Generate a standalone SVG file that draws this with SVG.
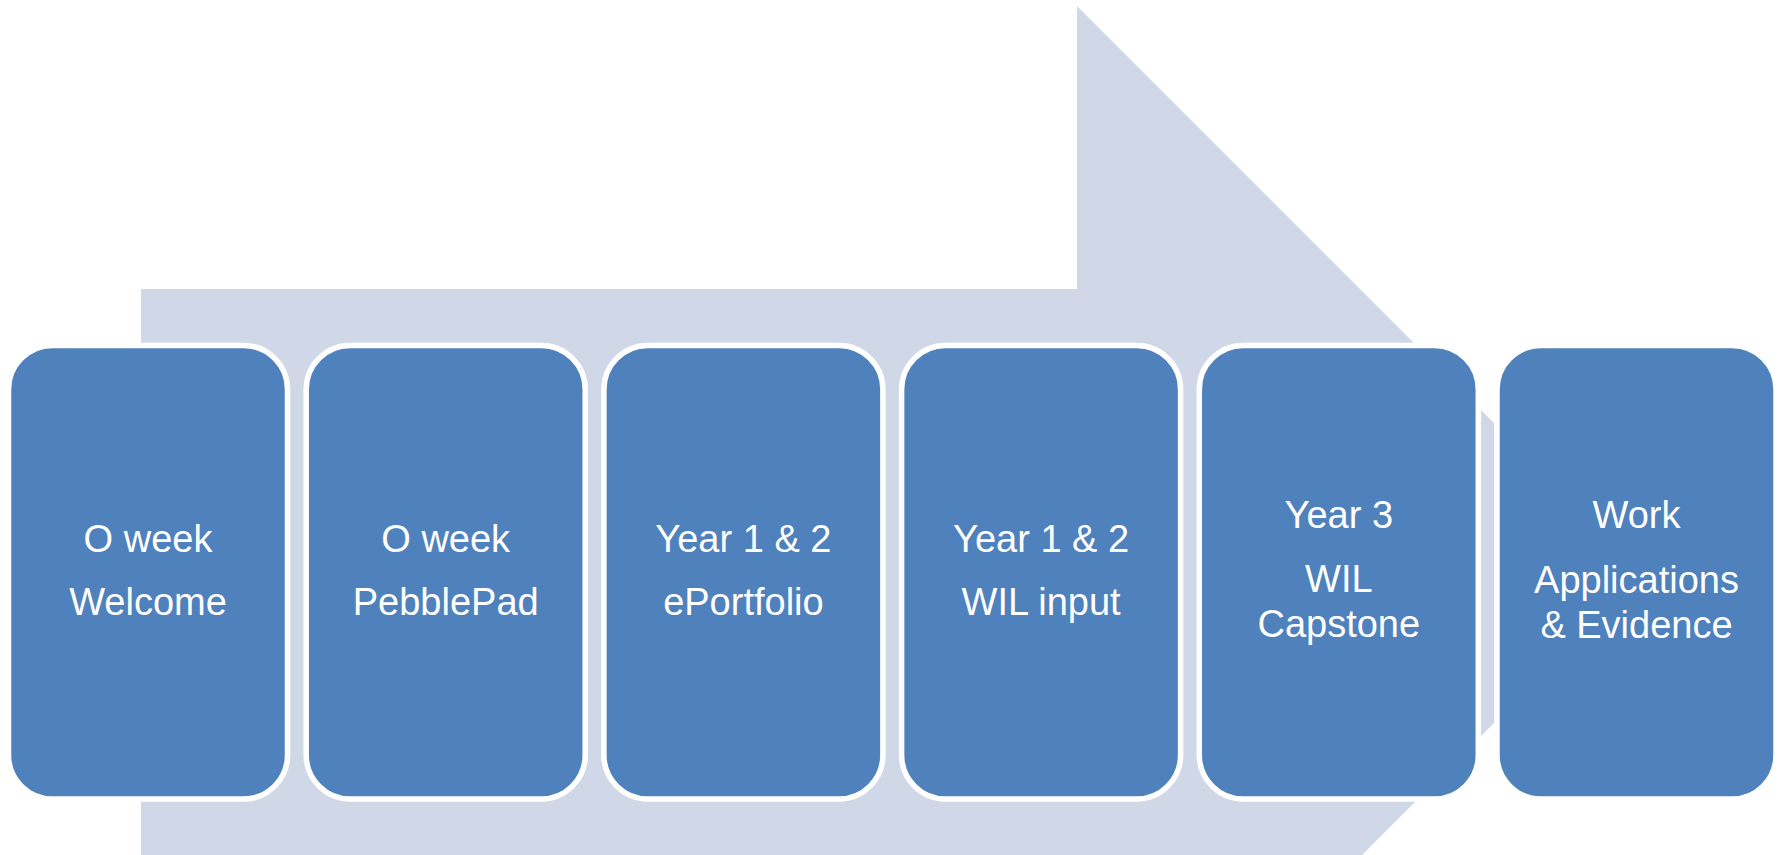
<svg xmlns="http://www.w3.org/2000/svg" width="1783" height="855" viewBox="0 0 1783 855">
  <style>
    .band { fill: #D0D8E8; }
    .step { fill: #4F81BD; stroke: #FFFFFF; stroke-width: 5.5; }
    .label { fill: #FFFFFF; font-family: "Liberation Sans", Arial, sans-serif; font-size: 38px; text-anchor: middle; }
  </style>

  <!-- Background progress arrow -->
  <g id="progress-arrow">
    <polygon class="band" points="141,289 1077,289 1077,6 1644,573 1077,1140 1077,857 141,857"/>
  </g>

  <!-- Stages -->
  <g id="stage-1">
    <rect class="step" x="8.5" y="345.5" width="279" height="453.5" rx="44" ry="44"/>
    <text class="label" x="148" y="551.5">O week</text>
    <text class="label" x="148" y="614.5">Welcome</text>
  </g>
  <g id="stage-2">
    <rect class="step" x="306.2" y="345.5" width="279" height="453.5" rx="44" ry="44"/>
    <text class="label" x="445.7" y="551.5">O week</text>
    <text class="label" x="445.7" y="614.5">PebblePad</text>
  </g>
  <g id="stage-3">
    <rect class="step" x="603.9" y="345.5" width="279" height="453.5" rx="44" ry="44"/>
    <text class="label" x="743.4" y="551.5">Year 1 &amp; 2</text>
    <text class="label" x="743.4" y="614.5">ePortfolio</text>
  </g>
  <g id="stage-4">
    <rect class="step" x="901.6" y="345.5" width="279" height="453.5" rx="44" ry="44"/>
    <text class="label" x="1041.1" y="551.5">Year 1 &amp; 2</text>
    <text class="label" x="1041.1" y="614.5">WIL input</text>
  </g>
  <g id="stage-5">
    <rect class="step" x="1199.3" y="345.5" width="279" height="453.5" rx="44" ry="44"/>
    <text class="label" x="1338.8" y="528">Year 3</text>
    <text class="label" x="1338.8" y="592">WIL</text>
    <text class="label" x="1338.8" y="637">Capstone</text>
  </g>
  <g id="stage-6">
    <rect class="step" x="1497" y="345.5" width="279" height="453.5" rx="44" ry="44"/>
    <text class="label" x="1636.5" y="528">Work</text>
    <text class="label" x="1636.5" y="593">Applications</text>
    <text class="label" x="1636.5" y="638">&amp; Evidence</text>
  </g>

  <!-- No connectors: the stages sit on the shared arrow -->
  <g id="connectors"/>
</svg>
